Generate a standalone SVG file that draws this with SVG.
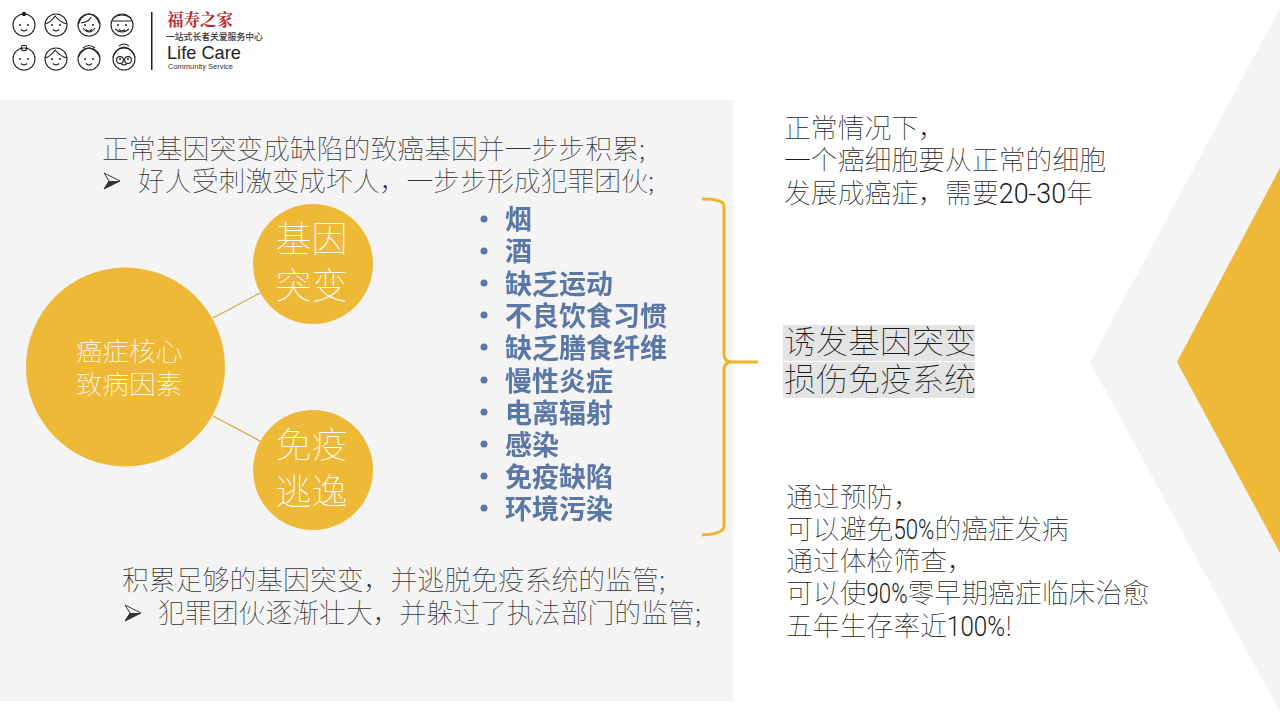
<svg xmlns="http://www.w3.org/2000/svg" width="1280" height="720" viewBox="0 0 1280 720">
<defs>
<filter id="soft" x="-5%" y="-5%" width="110%" height="110%"><feGaussianBlur stdDeviation="0.55"/></filter>
<g id="face"><circle cx="0" cy="0" r="11" class="ln"/><circle cx="-4" cy="0" r="1" class="dot"/><circle cx="4" cy="0" r="1" class="dot"/><path d="M-3 4.500Q0 7.500 3 4.500" class="ln"/></g>
</defs>
<style>
text{font-family:"Noto Sans CJK SC","Liberation Sans",sans-serif;font-weight:100;fill:#333}
.t27{font-size:26.85px}
.blk{fill:#1a1a1a}
.hl{font-size:32px;fill:#1a1a1a}
.c36{font-size:36px;text-anchor:middle;fill:#fff}
.c27{font-size:26.67px;text-anchor:middle;fill:#fff}
.li{font-size:27px;font-weight:700;fill:#5a77a5}
.lat{font-family:"Roboto","Liberation Sans",sans-serif;font-weight:300}
.ln{fill:none;stroke:#222;stroke-width:1.1}
.dot{fill:#222}
.cir{fill:#edb937}
.cn{fill:none;stroke:#d0a93f;stroke-width:1.3}
</style>
<rect width="1280" height="720" fill="#fff"/>
<rect x="0" y="100" width="733" height="601" fill="#f4f4f5"/>
<polygon points="1280,8 1090,362 1280,712" fill="#f4f4f5"/>
<polygon points="1280,168 1177,362 1280,553" fill="#edb937"/>
<g id="logo">
<use href="#face" x="24" y="25"/><circle cx="24" cy="14" r="2.200" class="dot"/>
<use href="#face" x="56" y="25"/><path d="M45.500 24Q51 22 55 16Q60 22 66.500 24" class="ln"/>
<use href="#face" x="89" y="25"/><path d="M78.500 24Q81 15 89 14Q97 15 99.500 24M81 23Q89 22 91 17" class="ln"/><path d="M83 28Q89 36 95 28" class="ln"/>
<use href="#face" x="122" y="25"/><path d="M112 21H132M113 18Q122 12 131 18" class="ln"/><path d="M115 29Q122 35 129 29" class="ln"/>
<use href="#face" x="24" y="59"/><circle cx="24" cy="48" r="2.800" class="ln"/>
<use href="#face" x="56" y="59"/><path d="M45.500 58Q51 56 55 50Q60 56 66.500 58" class="ln"/>
<use href="#face" x="89" y="59"/><path d="M78.500 57Q82 49 89 48Q96 49 99.500 57M83 48Q89 43 95 48" class="ln"/>
<use href="#face" x="124" y="59"/><path d="M113 57Q116 48 124 47Q132 48 135 57M119 46Q124 42 129 46" class="ln"/><circle cx="120" cy="60" r="3.400" class="ln"/><circle cx="128" cy="60" r="3.400" class="ln"/>
<rect x="151" y="12" width="1.500" height="58" fill="#222"/>
<text x="167" y="26" style="font-family:'Noto Serif CJK SC','Noto Sans CJK SC',serif;font-size:16.500px;font-weight:700;fill:#b5272b">福寿之家</text>
<text x="166" y="40" style="font-size:8.800px;font-weight:500;fill:#333">一站式长者关爱服务中心</text>
<text x="167" y="59" style="font-family:'Liberation Sans',sans-serif;font-size:18.200px;font-weight:400;fill:#222">Life Care</text>
<text x="168" y="69" style="font-family:'Liberation Sans',sans-serif;font-size:7.500px;font-weight:400;fill:#333">Community Service</text>
</g>
<g id="top-text">
<text class="t27" x="102" y="159">正常基因突变成缺陷的致癌基因并一步步积累;</text>
<path d="M104 173L120 181L104 189L109 181Z" fill="#fff" stroke="#333" stroke-width="1"/><path d="M104 189L120 181L109 181Z" fill="#333"/>
<text class="t27" x="138" y="191">好人受刺激变成坏人，一步步形成犯罪团伙;</text>
</g>
<g id="connectors"><line class="cn" x1="213" y1="318" x2="260" y2="293"/><line class="cn" x1="213" y1="416" x2="262" y2="442"/>
<path d="M702 199Q724 199 724 206V354Q724 362 732 362H758M732 362Q724 362 724 370V526Q724 534 702 535" fill="none" stroke="#f0b323" stroke-width="3"/></g>
<g id="core"><circle class="cir" cx="125.500" cy="367" r="99.500"/><text class="c27" x="129" y="361">癌症核心</text><text class="c27" x="129" y="394">致病因素</text></g>
<g id="mutation"><circle class="cir" cx="313" cy="264" r="60"/><text class="c36" x="311.500" y="252">基因</text><text class="c36" x="311.500" y="299">突变</text></g>
<g id="escape"><circle class="cir" cx="313" cy="470" r="60"/><text class="c36" x="311.500" y="458">免疫</text><text class="c36" x="311.500" y="505">逃逸</text></g>
<g id="factors" filter="url(#soft)">
<g fill="#5a77a5"><circle cx="484" cy="219" r="3.500"/><circle cx="484" cy="251" r="3.500"/><circle cx="484" cy="283" r="3.500"/><circle cx="484" cy="315" r="3.500"/><circle cx="484" cy="347" r="3.500"/><circle cx="484" cy="380" r="3.500"/><circle cx="484" cy="412" r="3.500"/><circle cx="484" cy="444" r="3.500"/><circle cx="484" cy="476" r="3.500"/><circle cx="484" cy="508" r="3.500"/></g>
<text class="li" x="505" y="229">烟</text><text class="li" x="505" y="261">酒</text><text class="li" x="505" y="294">缺乏运动</text><text class="li" x="505" y="326">不良饮食习惯</text><text class="li" x="505" y="358">缺乏膳食纤维</text><text class="li" x="505" y="391">慢性炎症</text><text class="li" x="505" y="423">电离辐射</text><text class="li" x="505" y="455">感染</text><text class="li" x="505" y="487">免疫缺陷</text><text class="li" x="505" y="519">环境污染</text>
</g>
<g id="bottom-text">
<text class="t27" x="122" y="590">积累足够的基因突变，并逃脱免疫系统的监管;</text>
<path d="M125 605L141 613L125 621L130 613Z" fill="#fff" stroke="#333" stroke-width="1"/><path d="M125 621L141 613L130 613Z" fill="#333"/>
<text class="t27" x="158" y="623">犯罪团伙逐渐壮大，并躲过了执法部门的监管;</text>
</g>
<g id="right-top"><text class="t27 blk" x="784" y="138">正常情况下，</text><text class="t27 blk" x="784" y="170">一个癌细胞要从正常的细胞</text><text class="t27 blk" x="784" y="203">发展成癌症，需要<tspan class="lat">20-30</tspan>年</text></g>
<g id="right-mid"><rect x="783" y="325" width="192" height="36" fill="#e4e4e4"/><rect x="783" y="362" width="192" height="36" fill="#e4e4e4"/><text class="hl" x="784" y="353">诱发基因突变</text><text class="hl" x="784" y="391">损伤免疫系统</text></g>
<g id="right-bottom"><text class="t27 blk" x="786" y="507">通过预防，</text><text class="t27 blk" x="786" y="539">可以避免<tspan class="lat" textLength="41" lengthAdjust="spacingAndGlyphs">50%</tspan>的癌症发病</text><text class="t27 blk" x="786" y="571">通过体检筛查，</text><text class="t27 blk" x="786" y="603">可以使<tspan class="lat" textLength="41" lengthAdjust="spacingAndGlyphs">90%</tspan>零早期癌症临床治愈</text><text class="t27 blk" x="786" y="636">五年生存率近<tspan class="lat" textLength="58" lengthAdjust="spacingAndGlyphs">100%</tspan>!</text></g>
</svg>
